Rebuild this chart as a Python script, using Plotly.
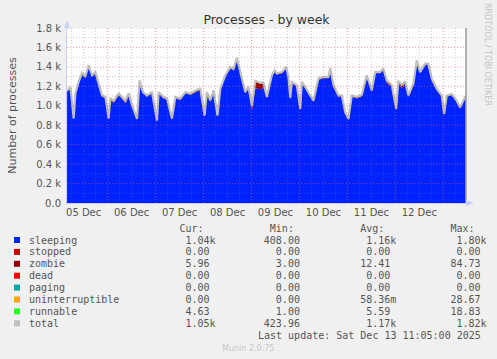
import plotly.graph_objects as go
from datetime import datetime, timedelta

BASE = datetime(2025, 12, 5)

# hours after 05 Dec 00:00
hours = [3.7, 5.4, 7.0, 7.9, 9.5, 11.2, 12.9, 14.5, 16.2, 17.9, 19.5, 21.2,
         22.9, 24.5, 25.4, 27.0, 29.5, 31.2, 32.9, 34.5, 36.2, 38.7, 40.0, 41.7,
         43.7, 46.2, 48.7, 49.5, 52.0, 53.7, 56.2, 57.9, 60.4, 62.9, 65.4, 68.7,
         70.4, 72.5, 73.7, 75.4, 77.0, 79.0, 80.4, 82.9, 85.4, 87.0, 88.7, 90.4,
         92.9, 94.5, 96.2, 97.9, 100.4, 102.0, 103.7, 106.2, 107.5, 108.7, 111.2, 113.4,
         114.5, 115.4, 116.2, 118.7, 120.4, 121.2, 122.9, 125.4, 127.0, 129.5, 132.0, 134.5,
         135.4, 137.0, 139.5, 141.2, 142.9, 144.5, 146.2, 148.7, 151.2, 153.7, 156.2, 157.9,
         160.4, 162.0, 163.7, 166.2, 168.4, 169.5, 171.2, 172.9, 174.5, 177.0, 178.7, 180.4,
         182.9, 184.5, 186.2, 188.7, 191.2, 192.4, 193.7, 196.2, 198.7, 200.4, 202.0, 203.2]

sleeping = [1145, 1180, 860, 1120, 1231, 1317, 1283, 1402, 1300, 1334, 1214, 1093,
            1076, 854, 1060, 1025, 1110, 1076, 1025, 1093, 990, 854, 1248, 1128,
            1093, 1128, 837, 1128, 1076, 1060, 854, 1076, 1060, 1128, 1110, 1145,
            1163, 888, 1128, 1042, 1145, 888, 1163, 1300, 1385, 1368, 1480, 1334,
            1128, 1180, 957, 1180, 1170, 1190, 1076, 1300, 1351, 1320, 1334, 1385,
            1266, 1060, 1231, 1197, 957, 1231, 1180, 1093, 1042, 1266, 1283, 1283,
            1368, 1197, 1093, 1093, 922, 854, 1093, 1076, 1093, 1300, 1145, 1334,
            1334, 1368, 1231, 1197, 957, 1231, 1180, 1231, 1093, 1214, 1454, 1334,
            1420, 1420, 1266, 1163, 1093, 905, 1093, 1110, 1042, 974, 1042, 1093]

zombie = [8, 8, 7, 8, 9, 8, 8, 9, 8, 8, 9, 10,
          10, 12, 15, 20, 10, 12, 20, 25, 15, 9, 8, 8,
          8, 8, 7, 8, 9, 12, 12, 9, 8, 8, 9, 9,
          9, 8, 9, 10, 9, 8, 8, 8, 7, 7, 8, 8,
          9, 12, 40, 70, 60, 45, 12, 9, 8, 8, 9, 10,
          20, 18, 10, 9, 8, 9, 9, 8, 8, 9, 10, 9,
          15, 15, 9, 9, 8, 8, 9, 9, 8, 8, 9, 9,
          9, 10, 25, 12, 9, 20, 30, 15, 9, 9, 8, 8,
          8, 8, 8, 8, 8, 7, 7, 7, 6, 6, 6, 6]

runnable = [5, 5, 4, 5, 6, 15, 15, 6, 5, 5, 5, 5,
            5, 4, 5, 6, 6, 5, 6, 12, 6, 4, 6, 5,
            5, 5, 4, 5, 5, 5, 4, 5, 6, 5, 6, 12,
            5, 4, 5, 5, 6, 4, 5, 6, 6, 5, 6, 5,
            5, 6, 4, 6, 5, 5, 5, 6, 5, 6, 5, 6,
            5, 5, 5, 6, 4, 5, 6, 5, 5, 6, 5, 5,
            6, 5, 5, 6, 4, 4, 5, 6, 12, 6, 5, 5,
            5, 6, 5, 5, 4, 5, 5, 5, 6, 5, 6, 6,
            5, 5, 5, 5, 5, 4, 5, 5, 5, 5, 5, 5]

N = len(hours)
stopped = [0] * N
dead = [0] * N
paging = [0] * N
uninterruptible = [0] * N

series_names = ["sleeping", "stopped", "zombie", "dead", "paging",
                "uninterruptible", "runnable", "total"]
series_colors = ["#0022ff", "#cc0000", "#990000", "#ff0000", "#00aaaa",
                 "#ffa500", "#22ff22", "#c0c0c0"]
cur_vals = ["1.04k", "0.00 ", "5.96 ", "0.00 ", "0.00 ", "0.00 ", "4.63 ", "1.05k"]
min_vals = ["408.00 ", "0.00 ", "3.00 ", "0.00 ", "0.00 ", "0.00 ", "1.00 ", "423.96 "]
avg_vals = ["1.16k", "0.00 ", "12.41 ", "0.00 ", "0.00 ", "58.36m", "5.59 ", "1.17k"]
max_vals = ["1.80k", "0.00 ", "84.73 ", "0.00 ", "0.00 ", "28.67 ", "18.83 ", "1.82k"]

ytick_vals = [0, 200, 400, 600, 800, 1000, 1200, 1400, 1600, 1800]
ytick_text = ["0.0", "0.2 k", "0.4 k", "0.6 k", "0.8 k", "1.0 k", "1.2 k", "1.4 k", "1.6 k", "1.8 k"]

times = [BASE + timedelta(hours=h) for h in hours]
total = [sleeping[i] + stopped[i] + zombie[i] + dead[i] + paging[i] + uninterruptible[i] + runnable[i]
         for i in range(N)]

stack = [sleeping, stopped, zombie, dead, paging, uninterruptible, runnable]

fig = go.Figure()
for name, col, vals in zip(series_names[:7], series_colors[:7], stack):
    fig.add_trace(go.Scatter(x=times, y=vals, name=name, stackgroup="one",
                             mode="lines", line=dict(width=0, color=col),
                             fillcolor=col, hoverinfo="skip", showlegend=False))
fig.add_trace(go.Scatter(x=times, y=total, name="total", mode="lines",
                         line=dict(width=2.2, color="#c0c0c0"), hoverinfo="skip",
                         showlegend=False))

# plot geometry in pixels
W, H = 497, 359
L, R, T, B = 67, 466, 28, 203
PW, PH = R - L, B - T

def px(x):
    return (x - L) / PW

def py(y):
    return (B - y) / PH

start = BASE + timedelta(hours=3.67)
end = BASE + timedelta(hours=203.35)

shapes = []
# grid drawn above the data (as rrdtool does)
h = 6
while h < 204:
    t = BASE + timedelta(hours=h)
    if start < t < end:
        major = (h % 24 == 0)
        shapes.append(dict(type="line", xref="x", yref="paper", x0=t, x1=t, y0=0, y1=1,
                           layer="above",
                           line=dict(color="rgba(230,90,90,0.6)" if major else "rgba(120,120,120,0.4)",
                                     width=1, dash="1px,2px")))
    h += 6
for v in range(100, 1900, 100):
    major = (v % 200 == 0)
    shapes.append(dict(type="line", xref="paper", yref="y", x0=0, x1=1, y0=v, y1=v,
                       layer="above",
                       line=dict(color="rgba(230,90,90,0.6)" if major else "rgba(120,120,120,0.4)",
                                 width=1, dash="1px,2px")))
# right border
shapes.append(dict(type="line", xref="paper", yref="paper", x0=1, x1=1, y0=0, y1=1,
                   line=dict(color="#999999", width=1.5), layer="above"))
# axis arrows
shapes.append(dict(type="path", xref="paper", yref="paper",
                   path=f"M {px(64)} {py(28)} L {px(70)} {py(28)} L {px(67)} {py(20)} Z",
                   fillcolor="#c8d0f8", line=dict(width=0)))
shapes.append(dict(type="path", xref="paper", yref="paper",
                   path=f"M {px(466)} {py(200)} L {px(466)} {py(206)} L {px(474)} {py(203)} Z",
                   fillcolor="#c8d0f8", line=dict(width=0)))

annotations = []
mono = dict(family="DejaVu Sans Mono", size=10, color="#555555")
header = " " * 25 + "Cur:" + " " * 11 + "Min:" + " " * 11 + "Avg:" + " " * 11 + "Max:"
annotations.append(dict(text=header.replace(" ", "&nbsp;"), xref="paper", yref="paper",
                        x=px(27), y=py(228.5), xanchor="left", yanchor="middle",
                        showarrow=False, font=mono))
row_y0 = 240.0
row_dy = 11.9
for i, name in enumerate(series_names):
    yy = row_y0 + i * row_dy
    line = name.ljust(26) + cur_vals[i].rjust(5) + min_vals[i].rjust(15) + \
        avg_vals[i].rjust(15) + max_vals[i].rjust(15)
    annotations.append(dict(text=line.replace(" ", "&nbsp;"), xref="paper", yref="paper",
                            x=px(27), y=py(yy), xanchor="left", yanchor="middle",
                            showarrow=False, font=mono))
    shapes.append(dict(type="rect", xref="paper", yref="paper",
                       x0=px(14), x1=px(20), y0=py(yy - 3), y1=py(yy + 3),
                       fillcolor=series_colors[i], line=dict(width=0)))
annotations.append(dict(text="Last update: Sat Dec 13 11:05:00 2025".replace(" ", "&nbsp;"),
                        xref="paper", yref="paper", x=px(483), y=py(335.3),
                        xanchor="right", yanchor="middle", showarrow=False, font=mono))
annotations.append(dict(text="Munin 2.0.75", xref="paper", yref="paper", x=px(248), y=py(348.3),
                        xanchor="center", yanchor="middle", showarrow=False,
                        font=dict(family="DejaVu Sans", size=8, color="#c8c8c8")))
annotations.append(dict(text="RRDTOOL / TOBI OETIKER", xref="paper", yref="paper",
                        x=px(488), y=py(54), xanchor="center", yanchor="middle",
                        textangle=90, showarrow=False,
                        font=dict(family="DejaVu Sans", size=8, color="#c4c4c4")))

fig.update_layout(
    width=W, height=H,
    margin=dict(l=L, r=W - R, t=T, b=H - B),
    paper_bgcolor="#f0f0f0", plot_bgcolor="#ffffff",
    title=dict(text="Processes - by week", x=0.5, xref="paper", y=1 - 19.5 / H,
               yref="container", xanchor="center", yanchor="middle",
               font=dict(family="DejaVu Sans", size=12.5, color="#333333")),
    shapes=shapes, annotations=annotations,
    showlegend=False,
    xaxis=dict(type="date", range=[start, end], showgrid=False, zeroline=False,
               tick0="2025-12-05", dtick=86400000, tickformat="%d %b",
               ticklabelmode="period", ticks="",
               tickfont=dict(family="DejaVu Sans", size=10, color="#555555"),
               showline=True, linecolor="#c8d0f8", linewidth=1),
    yaxis=dict(range=[0, 1800], tickvals=ytick_vals, ticktext=ytick_text,
               showgrid=False, zeroline=False, ticks="outside", ticklen=3,
               tickcolor="#f0f0f0",
               tickfont=dict(family="DejaVu Sans", size=10, color="#555555"),
               showline=True, linecolor="#c8d0f8", linewidth=1,
               title=dict(text="Number of processes", standoff=17,
                          font=dict(family="DejaVu Sans", size=11, color="#555555"))),
)

fig.write_html("out.html", config={"displayModeBar": False},
               post_script="document.body.style.margin='0px';document.body.style.overflow='hidden';")
